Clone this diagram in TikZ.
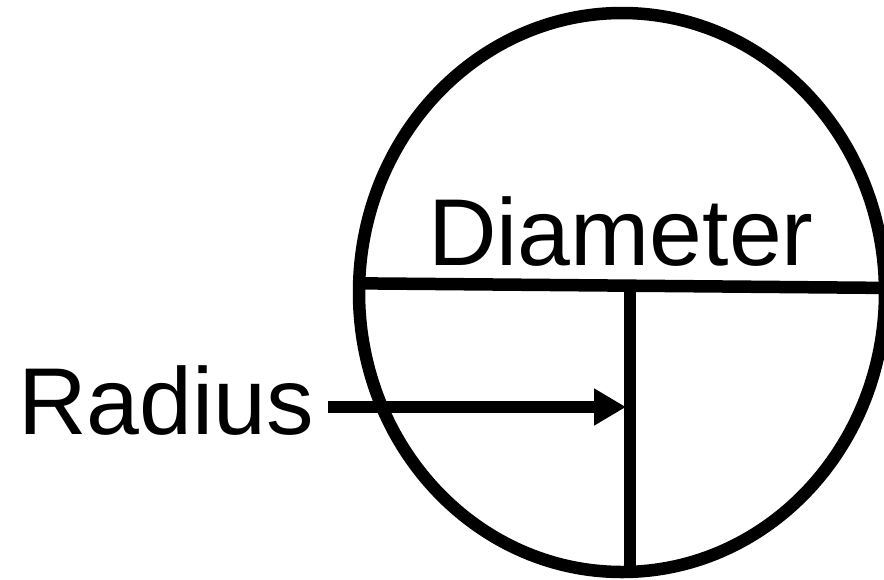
\documentclass[tikz,border=0pt]{standalone}
\usepackage{fontspec}
\setmainfont{Liberation Sans}
\usetikzlibrary{shapes.geometric, arrows.meta}

\begin{document}
\begin{tikzpicture}[x=1pt, y=-1pt,
    stroke/.style={line width=12.5pt, black},
    lbl/.style={font=\fontsize{95pt}{100pt}\selectfont, inner sep=0pt},
    rim/.style={ellipse, draw, line width=12.5pt, minimum width=526pt, minimum height=559pt, inner sep=0pt, outer sep=0pt}]
    % Frame
    \useasboundingbox (0,0) rectangle (884,579);

    % ==========================================
    % Circle with diameter
    % ==========================================
    \node[rim] (circ) at (622,292.5) {};
    \draw[stroke] (circ.178.6) -- (circ.1.4);
    \node[lbl, anchor=base] (diam) at (621,265) {Diameter};

    % Radius line from hub down to the rim
    \coordinate (hub) at (630,286);
    \draw[stroke] (hub) -- (hub |- circ.south);

    % ==========================================
    % Radius label and arrow
    % ==========================================
    \coordinate (tip) at (626,407);
    \node[lbl, anchor=base east, inner xsep=14pt] (radius) at (328,434) {Radius};
    \draw[stroke, -{Triangle[length=32pt, width=35pt]}] (radius.east |- tip) -- (tip);
\end{tikzpicture}
\end{document}
